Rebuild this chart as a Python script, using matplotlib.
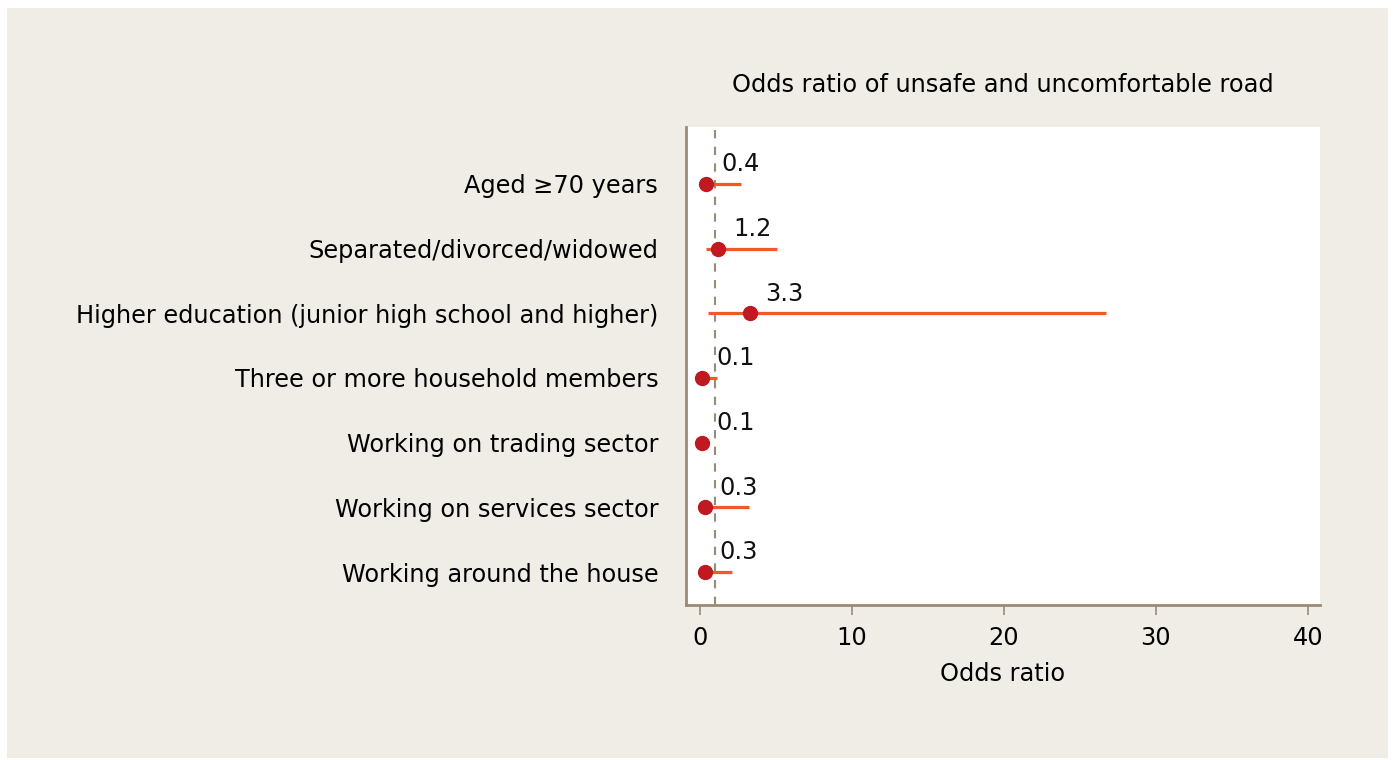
import matplotlib

matplotlib.use("Agg")
import matplotlib.pyplot as plt
from matplotlib.patches import Rectangle

# odds ratios with 95% confidence intervals
factors = [
    "Aged ≥70 years",
    "Separated/divorced/widowed",
    "Higher education (junior high school and higher)",
    "Three or more household members",
    "Working on trading sector",
    "Working on services sector",
    "Working around the house",
]
odds_ratio = [0.4, 1.2, 3.3, 0.1, 0.1, 0.3, 0.3]
ci_low = [0.05, 0.4, 0.5, 0.02, 0.02, 0.05, 0.05]
ci_high = [2.7, 5.1, 26.7, 1.1, 0.5, 3.2, 2.1]
x_ticks = [0, 10, 20, 30, 40]

BG = "#f0ede6"
SPINE = "#9a8b78"
DOT = "#c0191f"
CI = "#f05a28"
FS = 17.3

plt.rcParams["font.family"] = ["DejaVu Sans"]

fig = plt.figure(figsize=(13.95, 7.6), dpi=100)
fig.patch.set_facecolor("white")
fig.patches.append(Rectangle((7 / 1395, 2 / 760), 1381 / 1395, 750 / 760,
                             transform=fig.transFigure, facecolor=BG,
                             edgecolor="none", zorder=-10))

ax = fig.add_axes([686 / 1395, 155 / 760, 634 / 1395, 478 / 760])
ax.set_facecolor("white")

ypos = list(range(len(factors)))
ax.hlines(ypos, ci_low, ci_high, color=CI, linewidth=2.3, zorder=2)
ax.plot(odds_ratio, ypos, "o", color=DOT, markersize=10, zorder=3)
ax.axvline(1, color=SPINE, linestyle=(0, (4, 4)), linewidth=1.5, zorder=1)

for y, v in zip(ypos, odds_ratio):
    ax.annotate(f"{v:.1f}", (v, y), xytext=(11, 5.5), textcoords="offset points",
                ha="left", va="bottom", fontsize=FS, color="#111111")

ax.set_xlim(-0.92, 40.8)
ax.set_ylim(6.51, -0.88)
ax.set_yticks(ypos)
ax.set_yticklabels(factors, fontsize=FS)
ax.set_xticks(x_ticks)
ax.tick_params(axis="x", direction="out", length=7, width=1.2, color=SPINE,
               labelsize=FS, pad=8)
ax.tick_params(axis="y", length=0, pad=20)

for side in ("top", "right"):
    ax.spines[side].set_visible(False)
for side in ("left", "bottom"):
    ax.spines[side].set_color(SPINE)
    ax.spines[side].set_linewidth(2)

ax.set_xlabel("Odds ratio", fontsize=FS, labelpad=9)
ax.set_title("Odds ratio of unsafe and uncomfortable road", fontsize=FS, pad=25)

fig.savefig("out.png", dpi=100, facecolor=fig.get_facecolor())
